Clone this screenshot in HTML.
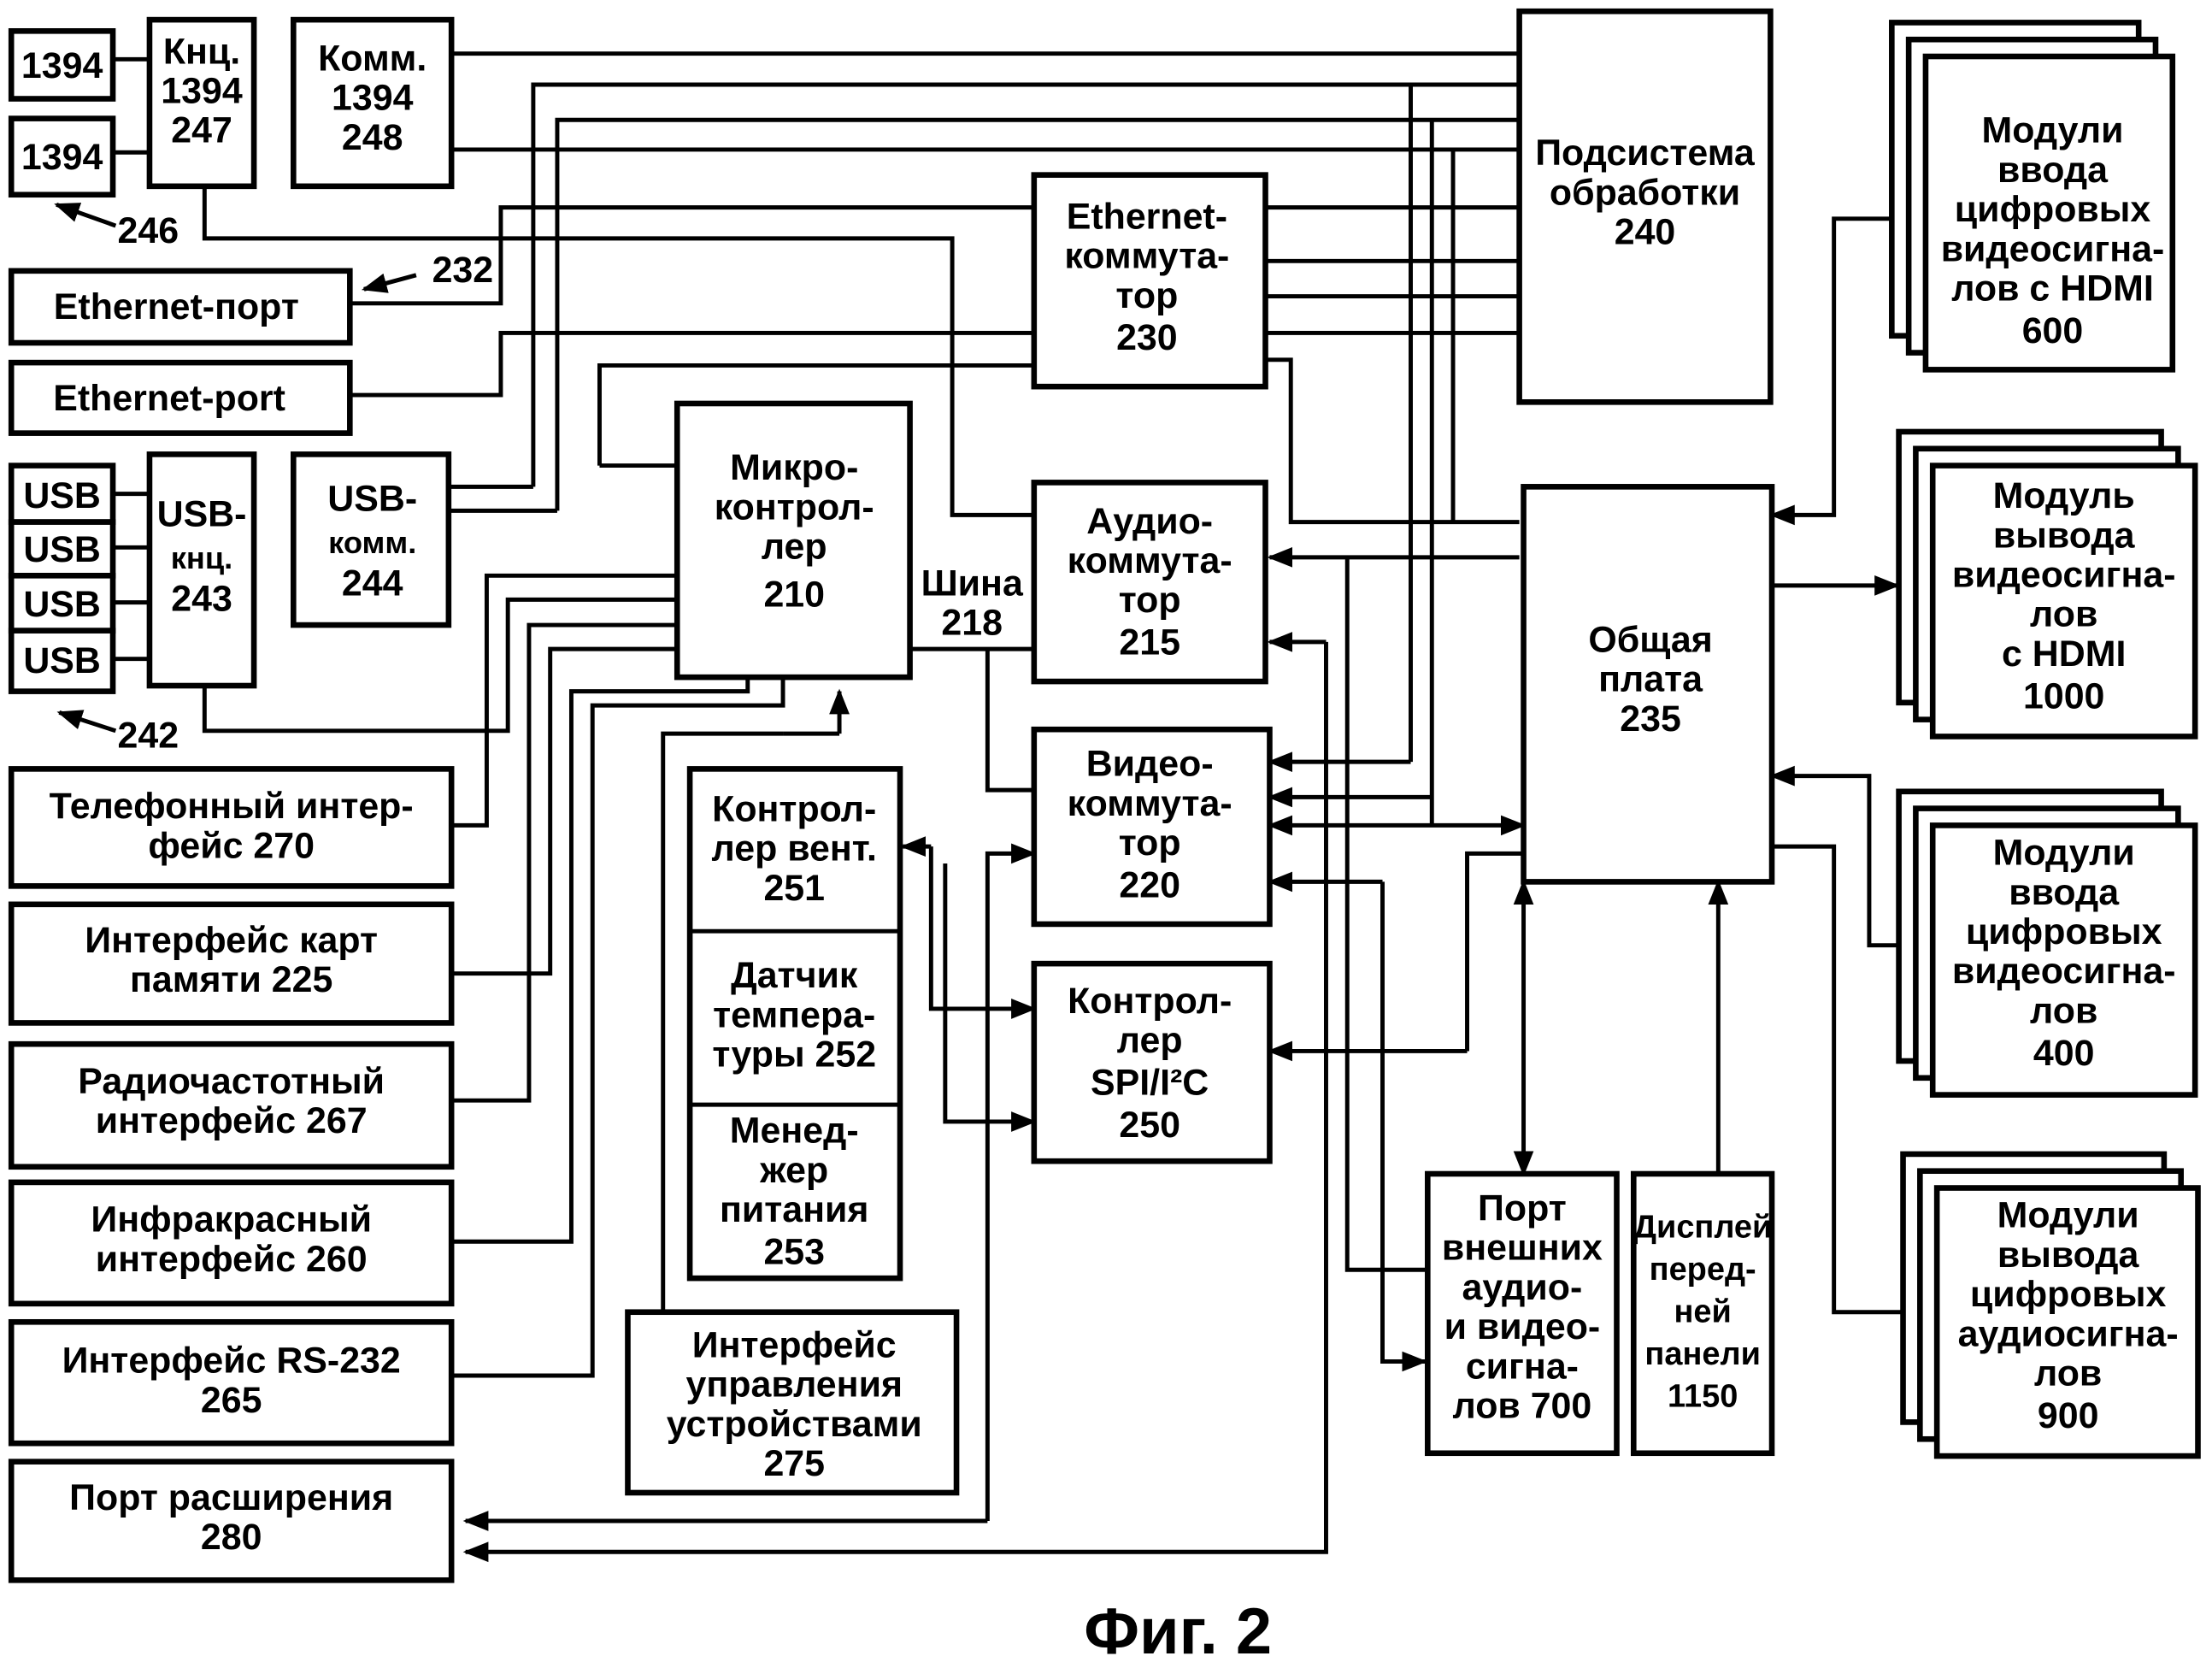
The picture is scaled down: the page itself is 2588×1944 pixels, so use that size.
<!DOCTYPE html>
<html><head><meta charset="utf-8"><style>
html,body{margin:0;padding:0;background:#fff;}
svg{display:block;}
text{font-family:"Liberation Sans",sans-serif;font-weight:bold;fill:#000;text-anchor:middle;}
</style></head><body>
<svg width="2588" height="1944" viewBox="0 0 1568 1178" preserveAspectRatio="none" xmlns="http://www.w3.org/2000/svg">
<defs>
<marker id="a" viewBox="0 0 10 10" refX="9" refY="5" markerWidth="6" markerHeight="6" orient="auto-start-reverse"><path d="M0,1 L10,5 L0,9 z" fill="#000"/></marker>
</defs>
<g fill="none" stroke="#000" stroke-width="3">
<path d="M80,42H106 M80,108H106"/>
<path d="M320,38H1077 M320,106H1077"/>
<path d="M378,345V60H1077 M395,362V85H1077"/>
<path d="M318,345H378 M318,362H395"/>
<path d="M145,132V169H675V365H733"/>
<path d="M248,215H355V147H733 M897,147H1077"/>
<path d="M248,280H355V236H733 M897,185H1077 M897,210H1077 M897,236H1077"/>
<path d="M425,330V259H733 M425,330H480"/>
<path d="M897,255H915V370H1077"/>
<path d="M645,460H733 M700,460V560H733"/>
<path d="M80,350H106 M80,388H106 M80,427H106 M80,467H106"/>
<path d="M145,486V518H360V425H480"/>
<path d="M320,585H345V408H480"/>
<path d="M320,690H390V460H480"/>
<path d="M320,780H375V443H480"/>
<path d="M320,880H405V490H530V480"/>
<path d="M320,975H420V500H555V480"/>
<path d="M470,930V520H555"/>
<path d="M1000,60V540 M1015,85V585 M1030,106V370"/>
<path d="M955,395V900H1010 M940,455V1100H330" marker-end="url(#a)"/>
<path d="M700,1078H330" marker-end="url(#a)"/>
<path d="M700,1078V605H733" marker-end="url(#a)"/>
<path d="M980,625V965H1010" marker-end="url(#a)"/>
<path d="M1077,395H900" marker-end="url(#a)"/>
<path d="M940,455H900" marker-end="url(#a)"/>
<path d="M1000,540H900" marker-end="url(#a)"/>
<path d="M1015,565H900" marker-end="url(#a)"/>
<path d="M980,625H900" marker-end="url(#a)"/>
<path d="M900,585H1080" marker-start="url(#a)" marker-end="url(#a)"/>
<path d="M1040,745H900" marker-end="url(#a)"/>
<path d="M1040,745V605H1080"/>
<path d="M595,520V490" marker-end="url(#a)"/>
<path d="M595,520H555"/>
<path d="M660,600V715H733" marker-end="url(#a)"/>
<path d="M660,600H640" marker-end="url(#a)"/>
<path d="M670,612V795H733" marker-end="url(#a)"/>
<path d="M1080,625V832" marker-start="url(#a)" marker-end="url(#a)"/>
<path d="M1218,832V625" marker-end="url(#a)"/>
<path d="M1340,155H1300V365H1256" marker-end="url(#a)"/>
<path d="M1256,415H1345" marker-end="url(#a)"/>
<path d="M1345,670H1325V550H1256" marker-end="url(#a)"/>
<path d="M1350,930H1300V600H1256"/>
<path d="M82,160L40,145" marker-end="url(#a)"/>
<path d="M82,518L42,505" marker-end="url(#a)"/>
<path d="M295,195L258,205" marker-end="url(#a)"/>
</g>
<g fill="#fff" stroke="#000" stroke-width="4">
<rect x="8" y="22" width="72" height="48"/><rect x="8" y="84" width="72" height="54"/>
<rect x="106" y="14" width="74" height="118"/><rect x="208" y="14" width="112" height="118"/>
<rect x="8" y="192" width="240" height="51"/><rect x="8" y="257" width="240" height="50"/>
<rect x="8" y="330" width="72" height="40"/><rect x="8" y="370" width="72" height="38"/><rect x="8" y="408" width="72" height="39"/><rect x="8" y="447" width="72" height="43"/>
<rect x="106" y="322" width="74" height="164"/><rect x="208" y="322" width="110" height="121"/>
<rect x="8" y="545" width="312" height="83"/><rect x="8" y="641" width="312" height="84"/>
<rect x="8" y="740" width="312" height="87"/><rect x="8" y="838" width="312" height="86"/>
<rect x="8" y="937" width="312" height="86"/><rect x="8" y="1036" width="312" height="84"/>
<rect x="480" y="286" width="165" height="194"/>
<rect x="733" y="124" width="164" height="150"/>
<rect x="1077" y="8" width="178" height="277"/>
<rect x="733" y="342" width="164" height="141"/>
<rect x="733" y="517" width="167" height="138"/>
<rect x="733" y="683" width="167" height="140"/>
<rect x="1080" y="345" width="176" height="280"/>
<rect x="489" y="545" width="149" height="361"/>
<rect x="445" y="930" width="233" height="128"/>
<rect x="1012" y="832" width="134" height="198"/>
<rect x="1158" y="832" width="98" height="198"/>
<rect x="1341" y="16" width="175" height="222"/><rect x="1353" y="28" width="175" height="222"/><rect x="1365" y="40" width="175" height="222"/>
<rect x="1346" y="306" width="186" height="192"/><rect x="1358" y="318" width="186" height="192"/><rect x="1370" y="330" width="186" height="192"/>
<rect x="1346" y="561" width="186" height="191"/><rect x="1358" y="573" width="186" height="191"/><rect x="1370" y="585" width="186" height="191"/>
<rect x="1349" y="818" width="185" height="190"/><rect x="1361" y="830" width="185" height="190"/><rect x="1373" y="842" width="185" height="190"/>
</g>
<path d="M489,660H638 M489,783H638" stroke="#000" stroke-width="3"/>
<g font-size="26">
<text x="44" y="55">1394</text><text x="44" y="120">1394</text>
<text x="143" y="45">Кнц.</text><text x="143" y="73">1394</text><text x="143" y="101">247</text>
<text x="264" y="50">Комм.</text><text x="264" y="78">1394</text><text x="264" y="106">248</text>
<text x="105" y="172">246</text><text x="328" y="200">232</text>
<text x="125" y="226">Ethernet-порт</text><text x="120" y="291">Ethernet-port</text>
<text x="44" y="360">USB</text><text x="44" y="398">USB</text><text x="44" y="437">USB</text><text x="44" y="477">USB</text>
<text x="143" y="373">USB-</text><text x="143" y="403" font-size="22">кнц.</text><text x="143" y="433">243</text>
<text x="264" y="362">USB-</text><text x="264" y="392" font-size="22">комм.</text><text x="264" y="422">244</text>
<text x="105" y="530">242</text>
<text x="164" y="580">Телефонный интер-</text><text x="164" y="608">фейс 270</text>
<text x="164" y="675">Интерфейс карт</text><text x="164" y="703">памяти 225</text>
<text x="164" y="775">Радиочастотный</text><text x="164" y="803">интерфейс 267</text>
<text x="164" y="873">Инфракрасный</text><text x="164" y="901">интерфейс 260</text>
<text x="164" y="973">Интерфейс RS-232</text><text x="164" y="1001">265</text>
<text x="164" y="1070">Порт расширения</text><text x="164" y="1098">280</text>
<text x="563" y="340">Микро-</text><text x="563" y="368">контрол-</text><text x="563" y="396">лер</text><text x="563" y="430">210</text>
<text x="689" y="422">Шина</text><text x="689" y="450">218</text>
<text x="813" y="162">Ethernet-</text><text x="813" y="190">коммута-</text><text x="813" y="218">тор</text><text x="813" y="248">230</text>
<text x="1166" y="117">Подсистема</text><text x="1166" y="145">обработки</text><text x="1166" y="173">240</text>
<text x="815" y="378">Аудио-</text><text x="815" y="406">коммута-</text><text x="815" y="434">тор</text><text x="815" y="464">215</text>
<text x="815" y="550">Видео-</text><text x="815" y="578">коммута-</text><text x="815" y="606">тор</text><text x="815" y="636">220</text>
<text x="815" y="718">Контрол-</text><text x="815" y="746">лер</text><text x="815" y="776">SPI/I²C</text><text x="815" y="806">250</text>
<text x="1170" y="462">Общая</text><text x="1170" y="490">плата</text><text x="1170" y="518">235</text>
<text x="563" y="582">Контрол-</text><text x="563" y="610">лер вент.</text><text x="563" y="638">251</text>
<text x="563" y="700">Датчик</text><text x="563" y="728">темпера-</text><text x="563" y="756">туры 252</text>
<text x="563" y="810">Менед-</text><text x="563" y="838">жер</text><text x="563" y="866">питания</text><text x="563" y="896">253</text>
<text x="563" y="962">Интерфейс</text><text x="563" y="990">управления</text><text x="563" y="1018">устройствами</text><text x="563" y="1046">275</text>
<text x="1079" y="865">Порт</text><text x="1079" y="893">внешних</text><text x="1079" y="921">аудио-</text><text x="1079" y="949">и видео-</text><text x="1079" y="977">сигна-</text><text x="1079" y="1005">лов 700</text>
<text x="1207" y="877" font-size="23">Дисплей</text><text x="1207" y="907" font-size="23">перед-</text><text x="1207" y="937" font-size="23">ней</text><text x="1207" y="967" font-size="23">панели</text><text x="1207" y="997" font-size="23">1150</text>
<text x="1455" y="101">Модули</text><text x="1455" y="129">ввода</text><text x="1455" y="157">цифровых</text><text x="1455" y="185">видеосигна-</text><text x="1455" y="213">лов с HDMI</text><text x="1455" y="243">600</text>
<text x="1463" y="360">Модуль</text><text x="1463" y="388">вывода</text><text x="1463" y="416">видеосигна-</text><text x="1463" y="444">лов</text><text x="1463" y="472">с HDMI</text><text x="1463" y="502">1000</text>
<text x="1463" y="613">Модули</text><text x="1463" y="641">ввода</text><text x="1463" y="669">цифровых</text><text x="1463" y="697">видеосигна-</text><text x="1463" y="725">лов</text><text x="1463" y="755">400</text>
<text x="1466" y="870">Модули</text><text x="1466" y="898">вывода</text><text x="1466" y="926">цифровых</text><text x="1466" y="954">аудиосигна-</text><text x="1466" y="982">лов</text><text x="1466" y="1012">900</text>
<text x="835" y="1172" font-size="46">Фиг. 2</text>
</g>
</svg>
</body></html>
